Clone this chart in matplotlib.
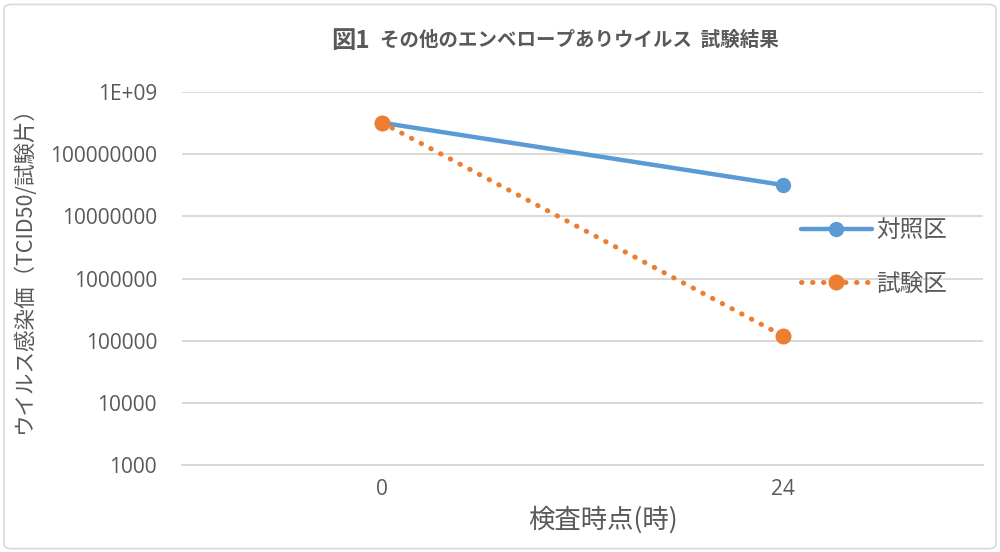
import matplotlib.pyplot as plt
from matplotlib.patches import FancyBboxPatch
from matplotlib.ticker import FixedLocator, FixedFormatter, NullLocator

plt.rcParams['font.family'] = ['Noto Sans CJK JP', 'DejaVu Sans']

categories = ['0', '24']
control = [3.2e8, 3.2e7]
treated = [3.2e8, 1.2e5]
ytick_values = [1e3, 1e4, 1e5, 1e6, 1e7, 1e8, 1e9]
ytick_labels = ['1000', '10000', '100000', '1000000', '10000000', '100000000', '1E+09']

gray = '#595959'
blue = '#5B9BD5'
orange = '#ED7D31'

fig = plt.figure(figsize=(10, 5.52), dpi=100)
ax = fig.add_axes([0.182, 0.1576, 0.801, 0.6757])

x = list(range(len(categories)))
ax.plot(x, control, color=blue, lw=3.2, marker='o', markersize=10,
        solid_capstyle='round', label='対照区', zorder=3)
ax.plot(x, treated, color=orange, lw=3.6, linestyle=(0, (0.1, 2.1)),
        dash_capstyle='round', marker='o', markersize=10.5, label='試験区', zorder=4)

ax.set_yscale('log')
ax.set_ylim(1e3, 1e9)
ax.set_xlim(-0.5, 1.5)
ax.yaxis.set_major_locator(FixedLocator(ytick_values))
ax.yaxis.set_major_formatter(FixedFormatter(ytick_labels))
ax.yaxis.set_minor_locator(NullLocator())
ax.set_xticks(x)
ax.set_xticklabels(categories)
ax.tick_params(axis='both', length=0, colors=gray, labelsize=15,
               labelfontfamily='Open Sans')
ax.tick_params(axis='x', pad=10)
ax.tick_params(axis='y', pad=18)
ax.grid(axis='y', color='#d9d9d9', lw=1.4)
ax.set_axisbelow(True)
for s in ['top', 'right', 'left']:
    ax.spines[s].set_visible(False)
ax.spines['bottom'].set_color('#d9d9d9')
ax.spines['bottom'].set_linewidth(1.4)

fig.text(0.331, 0.926, '図1', fontsize=17.5, color=gray, fontweight='bold',
         ha='left', va='center')
fig.text(0.380, 0.926, 'その他のエンベロープありウイルス  試験結果', fontsize=14,
         color=gray, fontweight='bold', ha='left', va='center')
fig.text(0.603, 0.058, '検査時点(時)', fontsize=19, color=gray, ha='center', va='center')
fig.text(0.024, 0.52, 'ウイルス感染価（TCID50/試験片）', fontsize=15.5, color=gray,
         ha='center', va='center', rotation=90)

leg = ax.legend(loc='center left', bbox_to_anchor=(0.746, 0.557), frameon=False,
                fontsize=17, labelcolor=gray, handlelength=3.0, labelspacing=1.3,
                handletextpad=0.2)

fig.patches.append(FancyBboxPatch((0.004, 0.006), 0.992, 0.986,
                                  boxstyle='round,pad=0,rounding_size=0.008',
                                  transform=fig.transFigure, fill=False,
                                  edgecolor='#d9d9d9', lw=1.2))

fig.savefig('out.png', dpi=100)
